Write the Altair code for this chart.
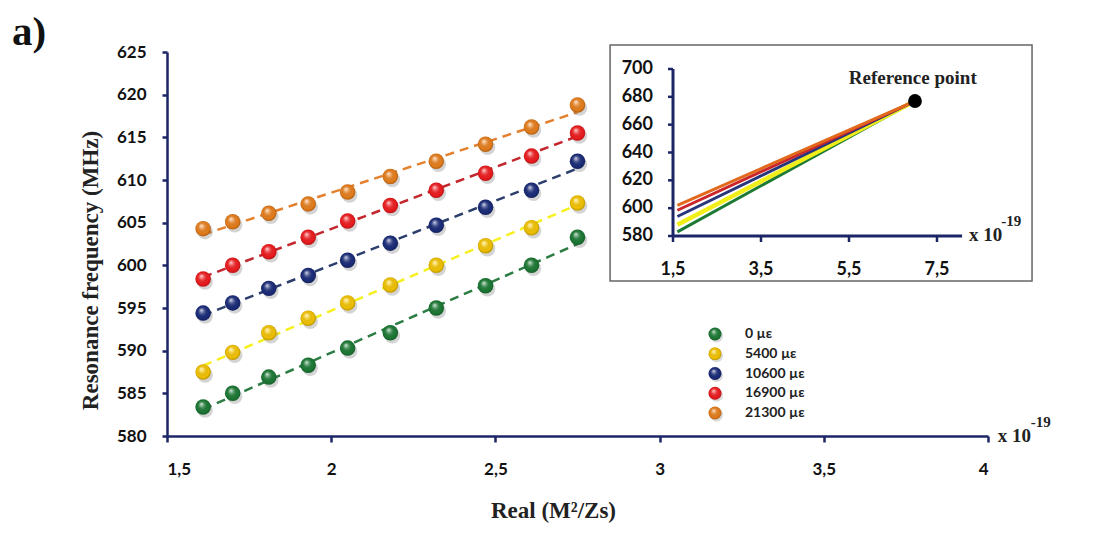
import altair as alt
import pandas as pd

# ---------------- data ----------------
series_labels = ["0 µε", "5400 µε", "10600 µε", "16900 µε", "21300 µε"]
x_vals = [1.61, 1.70, 1.81, 1.93, 2.05, 2.18, 2.32, 2.47, 2.61, 2.75]
freq_0 = [583.4, 585.0, 586.9, 588.3, 590.3, 592.1, 595.0, 597.6, 600.0, 603.3]
freq_5400 = [587.5, 589.8, 592.1, 593.8, 595.6, 597.7, 600.0, 602.3, 604.4, 607.3]
freq_10600 = [594.4, 595.6, 597.3, 598.8, 600.6, 602.6, 604.7, 606.8, 608.8, 612.2]
freq_16900 = [598.4, 600.0, 601.6, 603.3, 605.2, 607.0, 608.8, 610.8, 612.8, 615.5]
freq_21300 = [604.3, 605.1, 606.1, 607.2, 608.6, 610.4, 612.2, 614.2, 616.2, 618.8]

x_ticks = [1.5, 2, 2.5, 3, 3.5, 4]
y_ticks = [580, 585, 590, 595, 600, 605, 610, 615, 620, 625]

# inset: extrapolated lines converging on the reference point
inset_x_start = 1.6
inset_y_start = [583.0, 588.0, 594.0, 598.5, 602.0]
ref_x = 7.0
ref_y = 677.0
inset_x_ticks = [1.5, 3.5, 5.5, 7.5]
inset_y_ticks = [580, 600, 620, 640, 660, 680, 700]

# ---------------- style ----------------
point_colors = ["#1d7a35", "#f3c300", "#1b2c7a", "#ee1c1f", "#e67e1c"]
line_colors = ["#2c7c44", "#f6f01e", "#2b3e6c", "#c3272d", "#e4812f"]
inset_colors = ["#1d7a35", "#f2ee1a", "#27367a", "#c9252b", "#e2691c"]
NAVY = "#1c2566"
TICK_FONT = "Lato"
SERIF = "Liberation Serif"

rows = []
for lab, ys in zip(series_labels, [freq_0, freq_5400, freq_10600, freq_16900, freq_21300]):
    for xv, yv in zip(x_vals, ys):
        rows.append({"x": xv, "y": yv, "series": lab})
df = pd.DataFrame(rows)

xs = alt.Scale(domain=[1.5, 4], nice=False, zero=False)
ysc = alt.Scale(domain=[580, 625], nice=False, zero=False)

x_axis = alt.Axis(
    values=x_ticks, labelExpr="replace(toString(datum.value), '.', ',')",
    grid=False, domainColor=NAVY, domainWidth=2.5, tickColor=NAVY, tickWidth=2.5,
    tickSize=6, labelPadding=19, labelFont=TICK_FONT, labelFontSize=17,
    labelFontWeight="bold", labelColor="#111", title="Real (M²/Zs)",
    titleFont=SERIF, titleFontSize=23, titleFontWeight="bold", titleColor="#222",
    titleX=386, titleY=74, titleBaseline="middle", titleAlign="center",
)
y_axis = alt.Axis(
    values=y_ticks, grid=False, domainColor=NAVY, domainWidth=2.5, tickColor=NAVY,
    tickWidth=2.5, tickSize=5, labelPadding=16, labelFont=TICK_FONT, labelFontSize=17,
    labelFontWeight="bold", labelColor="#111", title="Resonance frequency (MHz)",
    titleFont=SERIF, titleFontSize=23, titleFontWeight="bold", titleColor="#222",
    titleX=-77, titleY=218, titleBaseline="middle", titleAlign="center", titleAngle=270,
)
X = alt.X("x:Q", scale=xs, axis=x_axis)
Y = alt.Y("y:Q", scale=ysc, axis=y_axis)

gloss = {
    "gradient": "radial",
    "x1": 0.38, "y1": 0.3, "r1": 0.0,
    "x2": 0.5, "y2": 0.5, "r2": 0.55,
    "stops": [
        {"offset": 0.0, "color": "rgba(255,255,255,0.85)"},
        {"offset": 0.3, "color": "rgba(255,255,255,0.25)"},
        {"offset": 0.7, "color": "rgba(0,0,0,0)"},
        {"offset": 1.0, "color": "rgba(0,0,0,0.3)"},
    ],
}

base = alt.Chart(df)

trend = base.transform_regression("x", "y", groupby=["series"]).mark_line(
    strokeDash=[9, 6], strokeWidth=2.5
).encode(
    x=X, y=Y,
    stroke=alt.Stroke("series:N", scale=alt.Scale(domain=series_labels, range=line_colors), legend=None),
    detail="series:N",
)

shadow = base.mark_circle(size=240, color="#666666", opacity=0.28, xOffset=2, yOffset=3).encode(x=X, y=Y)

fill_scale = alt.Scale(domain=series_labels, range=point_colors)
balls = base.mark_circle(size=240, opacity=1).encode(
    x=X, y=Y, fill=alt.Fill("series:N", scale=fill_scale, legend=None),
)
highlight = base.mark_circle(size=240, fill=gloss, opacity=1).encode(x=X, y=Y)

ann_main = pd.DataFrame({"x": [4.03], "y": [580.0], "t": ["x 10"]})
ann_main_sup = pd.DataFrame({"x": [4.13], "y": [581.6], "t": ["-19"]})
main_x10 = alt.Chart(ann_main).mark_text(
    align="left", baseline="middle", font=SERIF, fontSize=19, fontWeight="bold", color="#222"
).encode(x=X, y=Y, text="t:N")
main_sup = alt.Chart(ann_main_sup).mark_text(
    align="left", baseline="middle", font=SERIF, fontSize=15, fontWeight="bold", color="#222"
).encode(x=X, y=Y, text="t:N")

panel_label = alt.Chart(pd.DataFrame({"t": ["a)"]})).mark_text(
    align="left", baseline="middle", font=SERIF, fontSize=41, fontWeight="bold", color="#111"
).encode(x=alt.value(-155), y=alt.value(-19), text="t:N")

main = alt.layer(trend, shadow, balls, highlight, main_x10, main_sup, panel_label)

# ---------------- legend (series drawn through a point scale) ----------------
dfl = pd.DataFrame({"series": series_labels})
LY = alt.Y("series:N", scale=alt.Scale(type="point", domain=series_labels, range=[282, 361], padding=0), axis=None)
leg_shadow = alt.Chart(dfl).mark_circle(size=169, color="#666666", opacity=0.25, xOffset=1.5, yOffset=2).encode(
    x=alt.value(548), y=LY)
leg_ball = alt.Chart(dfl).mark_circle(size=169, opacity=1).encode(
    x=alt.value(548), y=LY, fill=alt.Fill("series:N", scale=fill_scale, legend=None))
leg_gloss = alt.Chart(dfl).mark_circle(size=169, fill=gloss, opacity=1).encode(x=alt.value(548), y=LY)
leg_text = alt.Chart(dfl).mark_text(
    align="left", baseline="middle", font=TICK_FONT, fontSize=14, fontWeight="bold", color="#222"
).encode(x=alt.value(578), y=LY, text="series:N")
legend = alt.layer(leg_shadow, leg_ball, leg_gloss, leg_text)

# ---------------- inset ----------------
ixs = alt.Scale(domain=[1.5, 7.5], range=[506, 770], nice=False, zero=False)
iys = alt.Scale(domain=[580, 700], range=[184, 17], nice=False, zero=False)
IX = alt.X("x:Q", scale=ixs, axis=None)
IY = alt.Y("y:Q", scale=iys, axis=None)

box = alt.Chart(pd.DataFrame({"x": [0.07], "x2": [9.66], "y": [717.2], "y2": [547.7]})).mark_rect(
    fill="white", stroke="#666666", strokeWidth=1.5
).encode(x=IX, x2="x2:Q", y=IY, y2="y2:Q")

inset_rows = []
for i, (lab, y0) in enumerate(zip(series_labels, inset_y_start)):
    inset_rows.append({"x": inset_x_start, "y": y0, "series": lab})
    inset_rows.append({"x": ref_x, "y": ref_y, "series": lab})
dfi = pd.DataFrame(inset_rows)

inset_lines = []
for i, lab in enumerate(series_labels):
    inset_lines.append(
        alt.Chart(dfi[dfi["series"] == lab]).mark_line(
            strokeWidth=4.5 if i == 1 else 3, color=inset_colors[i]
        ).encode(x=IX, y=IY)
    )

iaxis_y = alt.Chart(pd.DataFrame({"x": [1.5], "y": [580], "y2": [700]})).mark_rule(
    color=NAVY, strokeWidth=3
).encode(x=IX, y=IY, y2="y2:Q")
iaxis_x = alt.Chart(pd.DataFrame({"x": [1.5], "x2": [8.07], "y": [580]})).mark_rule(
    color=NAVY, strokeWidth=3
).encode(x=IX, x2="x2:Q", y=IY)

dfyt = pd.DataFrame({"x": [1.5] * len(inset_y_ticks), "y": inset_y_ticks})
dfxt = pd.DataFrame({"x": inset_x_ticks, "y": [580] * len(inset_x_ticks)})
ity = alt.Chart(dfyt).mark_rule(color=NAVY, strokeWidth=2.5, x2Offset=-5).encode(
    x=IX, x2="x:Q", y=IY)
itx = alt.Chart(dfxt).mark_rule(color=NAVY, strokeWidth=2.5, y2Offset=6).encode(
    x=IX, y=IY, y2="y:Q")
ity_lab = alt.Chart(dfyt).mark_text(
    align="right", baseline="middle", dx=-20, font=TICK_FONT, fontSize=18,
    fontWeight="bold", color="#111"
).encode(x=IX, y=IY, text=alt.Text("y:Q", format="d"))
itx_lab = alt.Chart(dfxt).mark_text(
    align="center", baseline="middle", dy=34, font=TICK_FONT, fontSize=18,
    fontWeight="bold", color="#111"
).encode(x=IX, y=IY, text=alt.Text("lab:N")).transform_calculate(
    lab="replace(toString(datum.x), '.', ',')")

ref_pt = alt.Chart(pd.DataFrame({"x": [ref_x], "y": [ref_y]})).mark_circle(
    size=190, color="#000000", opacity=1
).encode(x=IX, y=IY)
ref_txt = alt.Chart(pd.DataFrame({"x": [6.95], "y": [693.5], "t": ["Reference point"]})).mark_text(
    align="center", baseline="middle", font=SERIF, fontSize=19, fontWeight="bold", color="#222"
).encode(x=IX, y=IY, text="t:N")
ix10 = alt.Chart(pd.DataFrame({"x": [8.23], "y": [580.7], "t": ["x 10"]})).mark_text(
    align="left", baseline="middle", font=SERIF, fontSize=19, fontWeight="bold", color="#222"
).encode(x=IX, y=IY, text="t:N")
isup = alt.Chart(pd.DataFrame({"x": [8.96], "y": [590.8], "t": ["-19"]})).mark_text(
    align="left", baseline="middle", font=SERIF, fontSize=15, fontWeight="bold", color="#222"
).encode(x=IX, y=IY, text="t:N")

inset = alt.layer(box, *inset_lines, iaxis_y, iaxis_x, ity, itx, ity_lab, itx_lab,
                  ref_pt, ref_txt, ix10, isup)

chart = alt.layer(main, legend, inset).resolve_scale(
    x="independent", y="independent"
).properties(
    width=821, height=384, background="white",
    padding={"left": 159, "top": 44, "right": 90, "bottom": 90},
    autosize=alt.AutoSizeParams(type="none"),
).configure_view(stroke=None)

chart.save("out.html", embed_options={"renderer": "svg", "actions": False})
